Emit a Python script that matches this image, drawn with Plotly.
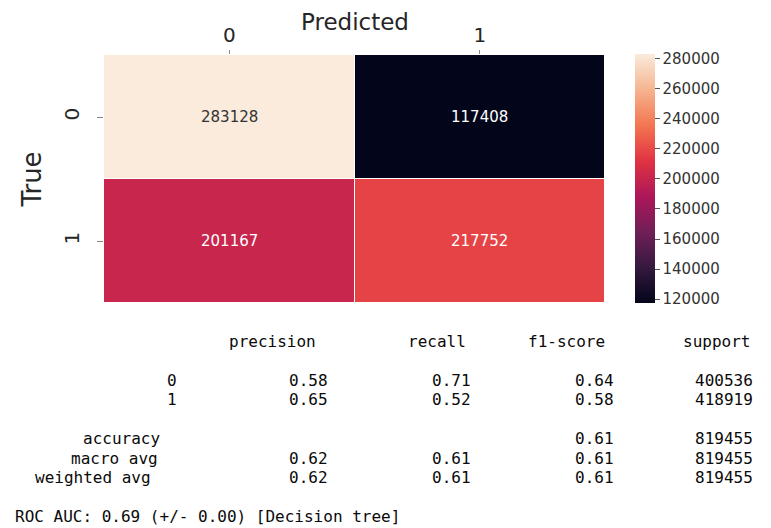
import re
import plotly.graph_objects as go

# ---------------- data ----------------
pred_labels = ["0", "1"]
true_labels = ["0", "1"]
cm_row0 = [283128, 117408]
cm_row1 = [201167, 217752]
cbar_ticks = [120000, 140000, 160000, 180000, 200000, 220000, 240000, 260000, 280000]

report_headers = ["precision", "recall", "f1-score", "support"]
class_names = ["0", "1"]
precision = [0.58, 0.65]
recall = [0.71, 0.52]
f1_score = [0.64, 0.58]
support = [400536, 418919]
accuracy = 0.61
total_support = 819455
macro_avg = [0.62, 0.61, 0.61]
weighted_avg = [0.62, 0.61, 0.61]
roc_auc = 0.69
roc_std = 0.00
model_name = "Decision tree"

# ---------------- figure geometry ----------------
# the page body has an 8px margin, so the figure is drawn 8px in from the window edge
OFF = 8
W, H = 771 - OFF, 528 - OFF
def px(x):
    return (x - OFF) / W
def py(y):
    return 1 - (y - OFF) / H

z = [cm_row0, cm_row1]
zmin = min(min(r) for r in z)
zmax = max(max(r) for r in z)

rocket = [
    [0.0, "#03051a"],
    [1 / 7, "#35193e"],
    [2 / 7, "#701f57"],
    [3 / 7, "#ad1759"],
    [4 / 7, "#e13342"],
    [5 / 7, "#f37651"],
    [6 / 7, "#f6b48f"],
    [1.0, "#faebdd"],
]

fig = go.Figure(
    go.Heatmap(
        z=z,
        x=pred_labels,
        y=true_labels,
        colorscale=rocket,
        zmin=zmin,
        zmax=zmax,
        xgap=1,
        ygap=1,
        hoverinfo="skip",
        colorbar=dict(
            x=px(635), xanchor="left", xpad=0,
            y=py(303), yanchor="bottom", ypad=0,
            len=(303 - 54) / H, lenmode="fraction",
            thickness=20, outlinewidth=0,
            ticks="outside", ticklen=5, tickcolor="#555", tickwidth=1,
            tickvals=cbar_ticks, ticktext=[str(v) for v in cbar_ticks],
            tickfont=dict(family="DejaVu Sans", size=15, color="#333"),
        ),
    )
)

annotations = []

# x-axis title ("Predicted") placed above the top tick labels
annotations.append(dict(
    x=0.5, xref="x domain", y=1.0, yref="paper",
    xanchor="center", yanchor="top", showarrow=False, borderpad=0,
    text="Predicted", font=dict(family="DejaVu Sans", size=23, color="#262626"),
))

# cell annotations
for i, row in enumerate(z):
    for j, v in enumerate(row):
        frac = (v - zmin) / (zmax - zmin)
        annotations.append(dict(
            x=pred_labels[j], y=true_labels[i], xref="x", yref="y",
            text=str(v), showarrow=False,
            font=dict(family="DejaVu Sans", size=15,
                      color="#333333" if frac > 0.7 else "#ffffff"),
        ))

# classification report text (sklearn layout)
width = 12
lines = []
lines.append(" " * width + " " + "".join(f" {h:>9}" for h in report_headers))
lines.append("")
for k, c in enumerate(class_names):
    lines.append(f"{c:>{width}} " + f" {precision[k]:>9.2f}" + f" {recall[k]:>9.2f}"
                 + f" {f1_score[k]:>9.2f}" + f" {support[k]:>9}")
lines.append("")
lines.append(f"{'accuracy':>{width}} " + f" {'':>9}" + f" {'':>9}"
             + f" {accuracy:>9.2f}" + f" {total_support:>9}")
lines.append(f"{'macro avg':>{width}} " + "".join(f" {v:>9.2f}" for v in macro_avg)
             + f" {total_support:>9}")
lines.append(f"{'weighted avg':>{width}} " + "".join(f" {v:>9.2f}" for v in weighted_avg)
             + f" {total_support:>9}")
roc_line = f"ROC AUC: {roc_auc:.2f} (+/- {roc_std:.2f}) [{model_name}]"

mono = dict(family="DejaVu Sans Mono", size=16, color="#0a0a0a")
x0, char_w = 7, (767 - 7) / 53
y0, line_h = 341, 19.5
for li, line in enumerate(lines):
    yy = y0 + li * line_h
    for m in re.finditer(r"\S+(?: \S+)*", line):
        cx = x0 + (m.start() + (m.end() - m.start()) / 2) * char_w
        annotations.append(dict(
            x=px(cx), y=py(yy), xref="paper", yref="paper",
            xanchor="center", yanchor="middle", showarrow=False,
            text=m.group(0), font=mono, borderpad=0,
        ))
annotations.append(dict(
    x=px(14), y=py(y0 + 9 * line_h), xref="paper", yref="paper",
    xanchor="left", yanchor="middle", showarrow=False,
    text=roc_line, font=mono, borderpad=0,
))

fig.update_layout(
    width=W, height=H,
    margin=dict(l=0, r=0, t=0, b=0, pad=0),
    paper_bgcolor="white", plot_bgcolor="white",
    annotations=annotations,
    xaxis=dict(
        domain=[px(104), px(605)], side="top", type="category",
        ticks="outside", ticklen=4, tickcolor="#888", tickwidth=1,
        tickfont=dict(family="DejaVu Sans", size=20, color="#262626"),
        showgrid=False, zeroline=False, showline=False, automargin=False,
    ),
    yaxis=dict(
        domain=[py(303), py(55)], type="category", autorange="reversed",
        ticks="outside", ticklen=6, tickcolor="#888", tickwidth=1, tickangle=-90,
        ticklabelstandoff=10,
        tickfont=dict(family="DejaVu Sans", size=20, color="#262626"),
        showgrid=False, zeroline=False, showline=False, automargin=False,
        title=dict(text="True", standoff=10,
                   font=dict(family="DejaVu Sans", size=26, color="#262626")),
    ),
)

fig.write_html("out.html")
